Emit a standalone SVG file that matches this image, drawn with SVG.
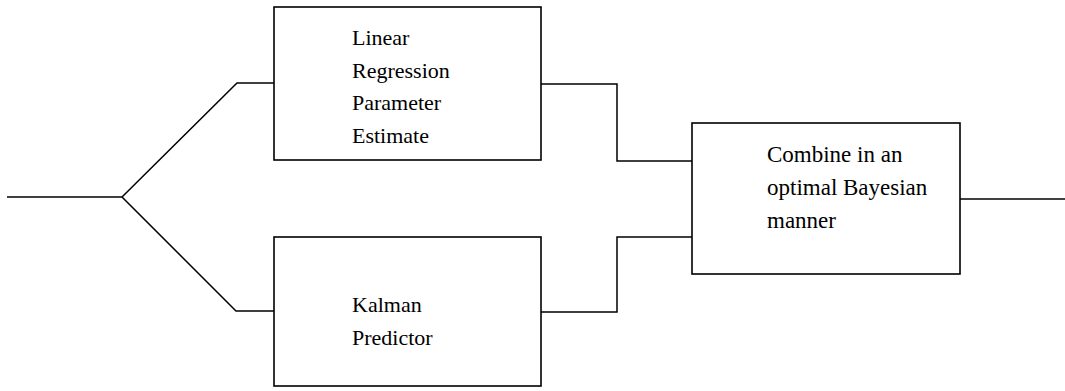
<svg xmlns="http://www.w3.org/2000/svg" width="1065" height="391" viewBox="0 0 1065 391">
<style>
.box{fill:#fff;stroke:#000;stroke-width:1.6}
.conn{fill:none;stroke:#000;stroke-width:1.5;stroke-linejoin:miter}
.lbl{font-family:"Liberation Serif","Times New Roman",serif;font-size:22px;fill:#000}
.big{font-size:23px}
</style>
<rect width="1065" height="391" fill="#fff"/>
<g id="connectors">
<path class="conn" d="M7,197 H122"/>
<path class="conn" d="M122,197 L237,83 H274"/>
<path class="conn" d="M122,197 L236,311 H274"/>
<path class="conn" d="M541,84 H617 V161 H692"/>
<path class="conn" d="M541,312 H617 V237 H692"/>
<path class="conn" d="M960,199 H1065"/>
</g>
<g id="linear-regression">
<rect class="box" x="274" y="7" width="267" height="153"/>
<text class="lbl" x="352" y="45">Linear</text>
<text class="lbl" x="352" y="78">Regression</text>
<text class="lbl" x="352" y="110">Parameter</text>
<text class="lbl" x="352" y="143">Estimate</text>
</g>
<g id="kalman-predictor">
<rect class="box" x="274" y="237" width="267" height="149"/>
<text class="lbl" x="352" y="312">Kalman</text>
<text class="lbl" x="352" y="345">Predictor</text>
</g>
<g id="combine">
<rect class="box" x="692" y="123" width="268" height="151"/>
<text class="lbl big" x="767" y="162">Combine in an</text>
<text class="lbl big" x="767" y="195">optimal Bayesian</text>
<text class="lbl big" x="767" y="228">manner</text>
</g>
</svg>
